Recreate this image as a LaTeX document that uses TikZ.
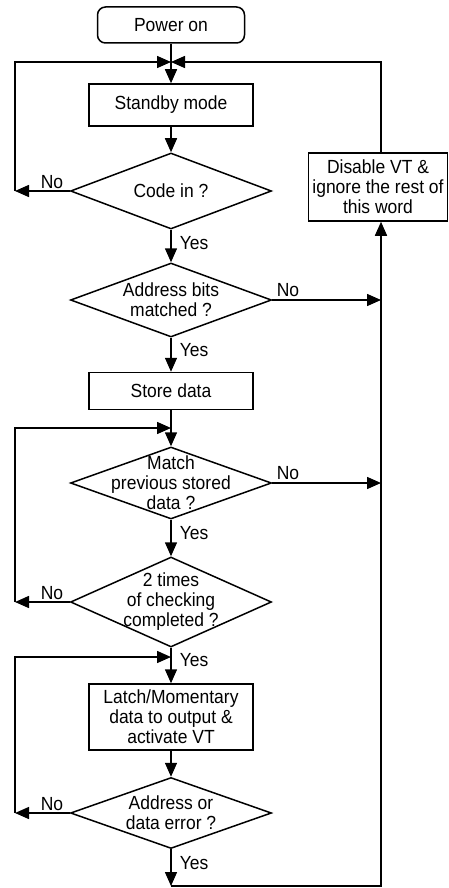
\documentclass[tikz,border=0pt]{standalone}
\usepackage{fontspec}
\setmainfont{Liberation Sans}[FakeStretch=0.92]
\usetikzlibrary{arrows.meta,shapes.geometric}
\begin{document}
\begin{tikzpicture}[x=1pt,y=-1pt,line width=1.5pt,
  font=\fontsize{19}{20}\selectfont,
  box/.style={draw,rectangle,inner sep=0,minimum width=164pt,align=center},
  dia/.style={draw,diamond,inner sep=0,minimum width=201pt},
  txt/.style={inner sep=0,align=center},
  lbl/.style={inner sep=0},
  arr/.style={-{Triangle[length=14pt,width=12pt]}}]
\useasboundingbox (0,0) rectangle (449,888);
% nodes
\node[draw,rounded corners=8pt,minimum width=147pt,minimum height=36pt,inner sep=0] (pw) at (171,25) {Power on};
\coordinate (J) at (171,62);
\node[box,minimum height=42pt] (sb) at (171,105) {Standby mode};
\node[dia,minimum height=76pt] (d1) at (171,191) {};
\node[txt] (t1) at (d1.center) {Code in ?};
\node[dia,minimum height=74pt] (d2) at (171,300) {};
\node[txt] (t2) at (d2.center) {Address bits\\matched ?};
\node[box,minimum height=37pt] (st) at (171,391) {Store data};
\node[dia,minimum height=72pt] (d3) at (171,483) {};
\node[txt] (t3) at (d3.center) {Match\\previous stored\\data ?};
\node[dia,minimum height=90pt] (d4) at (171,602) {};
\node[txt] (t4) at (d4.center) {2 times\\of checking\\completed ?};
\node[box,minimum height=66pt] (la) at (171,717) {Latch/Momentary\\data to output \&\\activate VT};
\node[dia,minimum height=71pt] (d5) at (171,813) {};
\node[txt] (t5) at (d5.center) {Address or\\data error ?};
\node[draw,rectangle,inner sep=0,minimum width=139pt,minimum height=68pt,align=center] (dis) at (378,187) {Disable VT \&\\ignore the rest of\\this word};
% helper coordinates
\coordinate (L1) at (15,191);
\coordinate (R2) at (381,300);
\coordinate (J2) at (171,428);
\coordinate (R3) at (381,483);
\coordinate (L4) at (15,602);
\coordinate (J3) at (171,657);
\coordinate (L5) at (15,813);
\coordinate (B) at (171,886);
\coordinate (BR) at (381,886);
% connectors
\draw[arr] (pw) -- (sb);
\draw[arr] (L1) |- (J);
\draw[arr] (dis.north -| BR) |- (J);
\draw[arr] (sb) -- (d1);
\draw[arr] (d1.west) -- (L1);
\draw[arr] (d1) -- (d2);
\draw[arr] (d2.east) -- (R2);
\draw[arr] (d2) -- (st);
\draw[arr] (st) -- (d3);
\draw[arr] (L4) |- (J2);
\draw[arr] (d3.east) -- (R3);
\draw[arr] (d3) -- (d4);
\draw[arr] (d4.west) -- (L4);
\draw[arr] (d4) -- (la);
\draw[arr] (L5) |- (J3);
\draw[arr] (la) -- (d5);
\draw[arr] (d5.west) -- (L5);
\draw[arr] (d5) -- (B);
\draw[arr] (B) -- (BR) -- (dis.south -| BR);
% labels
\node[lbl,anchor=base] (n1) at (52,188) {No};
\node[lbl,anchor=base] (n2) at (288,296) {No};
\node[lbl,anchor=base] (n3) at (288,479) {No};
\node[lbl,anchor=base] (n4) at (52,599) {No};
\node[lbl,anchor=base] (n5) at (52,810) {No};
\node[lbl,anchor=north west] (y1) at (179,236) {Yes};
\node[lbl,anchor=north west] (y2) at (179,343) {Yes};
\node[lbl,anchor=north west] (y3) at (179,526) {Yes};
\node[lbl,anchor=north west] (y4) at (179,653) {Yes};
\node[lbl,anchor=north west] (y5) at (179,856) {Yes};
\end{tikzpicture}
\end{document}
